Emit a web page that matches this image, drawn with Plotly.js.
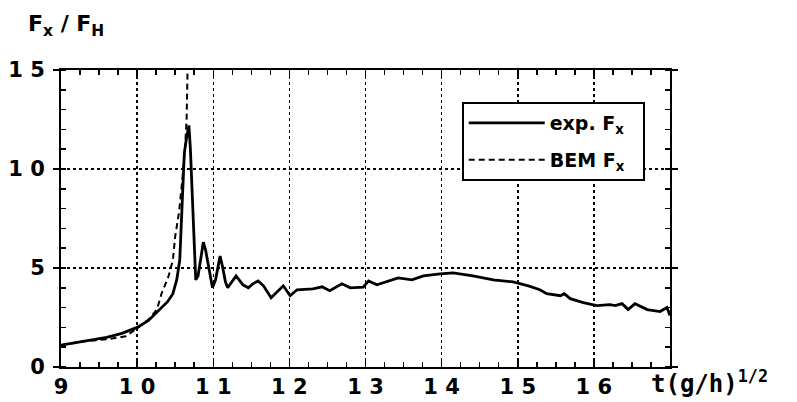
<!DOCTYPE html>
<html>
<head>
<meta charset="utf-8">
<script src="https://cdn.plot.ly/plotly-3.0.1.min.js"></script>
<style>html,body{margin:0;padding:0;background:#fff;}#chart{width:797px;height:402px;}</style>
</head>
<body>
<div id="chart"></div>
<script>
// Experimental F_x / F_H
const expT = [9.0, 9.3, 9.6, 9.8, 10.0, 10.15, 10.3, 10.4, 10.47, 10.52, 10.56, 10.58, 10.6, 10.62, 10.65, 10.68, 10.7, 10.72, 10.75, 10.77,
  10.8, 10.84, 10.87, 10.9, 10.95, 10.99, 11.03, 11.07, 11.09, 11.12, 11.16, 11.19, 11.24, 11.3, 11.35, 11.39, 11.46, 11.52, 11.59, 11.66,
  11.76, 11.85, 11.92, 12.01, 12.1, 12.2, 12.31, 12.43, 12.53, 12.69, 12.8, 12.97, 13.04, 13.15, 13.28, 13.43, 13.61, 13.76, 13.98, 14.15,
  14.41, 14.68, 14.94, 15.14, 15.29, 15.38, 15.56, 15.61, 15.69, 15.86, 16.04, 16.21, 16.28, 16.37, 16.45, 16.54, 16.7, 16.87, 16.96, 17.0];
const expF = [1.1, 1.3, 1.5, 1.7, 2.0, 2.35, 2.9, 3.3, 3.7, 4.4, 5.4, 7.0, 9.0, 10.8, 11.6, 12.2, 11.0, 9.3, 6.5, 4.4,
  4.6, 5.6, 6.3, 5.9, 4.8, 4.0, 4.4, 5.3, 5.6, 5.1, 4.3, 4.0, 4.3, 4.6, 4.35, 4.15, 4.0, 4.2, 4.35, 4.1,
  3.5, 3.85, 4.1, 3.6, 3.9, 3.92, 3.95, 4.05, 3.85, 4.2, 4.0, 4.03, 4.35, 4.15, 4.3, 4.5, 4.4, 4.6, 4.7, 4.75,
  4.6, 4.4, 4.3, 4.1, 3.9, 3.7, 3.6, 3.7, 3.45, 3.25, 3.1, 3.15, 3.1, 3.2, 2.9, 3.2, 2.9, 2.8, 3.0, 2.6];
// BEM F_x / F_H
const bemT = [9.0, 9.3, 9.6, 9.85, 10.0, 10.15, 10.26, 10.32, 10.41, 10.47, 10.5, 10.55, 10.59, 10.63, 10.65, 10.66, 10.67];
const bemF = [1.1, 1.3, 1.4, 1.55, 1.95, 2.4, 2.9, 3.7, 4.55, 5.4, 6.6, 7.8, 9.3, 11.1, 12.5, 14.0, 16.5];

const xTickVals = [9, 10, 11, 12, 13, 14, 15, 16];
const xTickText = ['9', '1 0', '1 1', '1 2', '1 3', '1 4', '1 5', '1 6'];
const yTickVals = [0, 5, 10, 15];
const yTickText = ['0', '5', '1 0', '1 5'];

const FONT = 'DejaVu Sans, Liberation Sans, Arial, sans-serif';

const traces = [
  {x: expT, y: expF, type: 'scatter', mode: 'lines', name: 'exp. F<sub>x</sub>\u00a0\u00a0',
   legendgroup: 'a', line: {color: '#000', width: 2.8}},
  {x: bemT, y: bemF, type: 'scatter', mode: 'lines', name: 'BEM F<sub>x</sub>\u00a0\u00a0',
   legendgroup: 'b', line: {color: '#000', width: 2, dash: '6px,4px'}}
];

const layout = {
  width: 797, height: 402,
  margin: {l: 61, r: 127, t: 70, b: 35},
  paper_bgcolor: '#fff', plot_bgcolor: '#fff',
  font: {family: FONT, color: '#000', size: 22, weight: 'bold'},
  showlegend: true,
  legend: {x: 0.658, y: 0.892, xanchor: 'left', yanchor: 'top',
    bordercolor: '#000', borderwidth: 2, bgcolor: '#fff',
    font: {family: FONT, size: 19, color: '#000', weight: 'bold'},
    itemwidth: 76, traceorder: 'grouped', tracegroupgap: 9},
  xaxis: {range: [9, 17], tickvals: xTickVals, ticktext: xTickText,
    showline: true, linecolor: '#000', linewidth: 2, mirror: 'allticks',
    ticks: 'inside', ticklen: 7, tickwidth: 1.5, tickcolor: '#000',
    ticklabelstandoff: 0,
    showgrid: true, gridcolor: '#000', gridwidth: 1.5, griddash: 'dot',
    zeroline: false,
    minor: {dtick: 0.25, ticks: 'inside', ticklen: 5, tickwidth: 1.5, tickcolor: '#000', showgrid: false},
    tickfont: {family: FONT, size: 21, color: '#000', weight: 'bold'}},
  yaxis: {range: [0, 15], tickvals: yTickVals, ticktext: yTickText,
    showline: true, linecolor: '#000', linewidth: 2, mirror: 'allticks',
    ticks: 'outside', ticklen: 6, tickwidth: 1.5, tickcolor: '#000',
    ticklabelstandoff: 4,
    showgrid: true, gridcolor: '#000', gridwidth: 1.5, griddash: 'dot',
    zeroline: false,
    minor: {dtick: 1, ticks: 'inside', ticklen: 5, tickwidth: 1.5, tickcolor: '#000', showgrid: false},
    tickfont: {family: FONT, size: 21, color: '#000', weight: 'bold'}},
  annotations: [
    {text: 'F<sub>x</sub> / F<sub>H</sub>', xref: 'paper', yref: 'paper',
     x: -0.058, y: 1.205, xanchor: 'left', yanchor: 'top', showarrow: false,
     font: {family: FONT, size: 22, color: '#000', weight: 'bold'}},
    {text: 't(g/h)<sup>1/2</sup>', xref: 'paper', yref: 'paper',
     x: 0.965, y: 0.01, xanchor: 'left', yanchor: 'top', showarrow: false,
     font: {family: 'DejaVu Sans Mono, monospace', size: 24, color: '#000', weight: 'bold'}}
  ]
};

Plotly.newPlot('chart', traces, layout, {displayModeBar: false, staticPlot: true});
</script>
</body>
</html>
